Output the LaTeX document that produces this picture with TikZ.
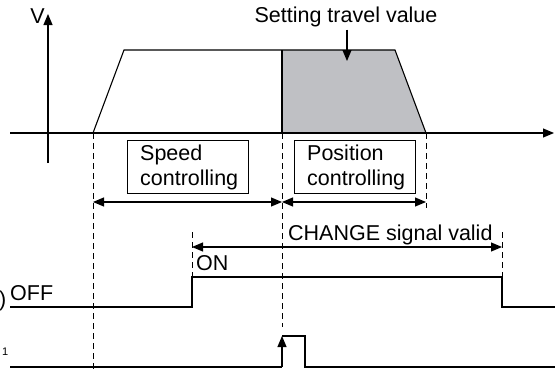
\documentclass[tikz,border=0pt]{standalone}
\usepackage{fontspec}
\setmainfont{Liberation Sans}
\usetikzlibrary{arrows.meta}
\definecolor{fillgray}{HTML}{BFC0C4}
\begin{document}
\begin{tikzpicture}[x=1pt,y=-1pt,
  line/.style={line width=1.1pt,line join=miter},
  dashline/.style={line width=0.9pt,dash pattern=on 6pt off 4pt},
  tip/.style={-{Triangle[length=11pt,width=9pt]}},
  dtip/.style={{Triangle[length=11pt,width=9pt]}-{Triangle[length=11pt,width=9pt]}},
  lbl/.style={inner sep=0pt,font=\fontsize{21.5}{25}\selectfont},
  boxlbl/.style={draw,line width=1.1pt,minimum width=121pt,minimum height=53pt,inner sep=0pt}]
\useasboundingbox (0,0) rectangle (557,372);
% coordinates
\coordinate (vbot) at (48,163); \coordinate (vtop) at (48,14);
\coordinate (hl) at (10,133); \coordinate (hr) at (554,133);
\coordinate (t0) at (93,133); \coordinate (t1) at (124,50);
\coordinate (t2) at (395,50); \coordinate (t3) at (426,133);
\coordinate (gtop) at (282,50); \coordinate (gbot) at (282,133);
% shaded area
\fill[fillgray] (gtop) -- (t2) -- (t3) -- (gbot) -- cycle;
\draw[line] (t0) -- (t1) -- (t2) -- (t3);
\draw[line] (gtop) -- (gbot);
% axes
\draw[line,tip] (vbot) -- (vtop);
\draw[line,tip] (hl) -- (hr);
\node[lbl] (V) at (37.5,16) {V};
% setting travel value
\node[lbl,anchor=base] (stv) at (346,22) {Setting travel value};
\coordinate (stvend) at (347,61);
\draw[line,tip] (stv.south -| stvend) ++(0,3) -- (stvend);
% boxes
\node[boxlbl,anchor=north west] (spd) at (127,140) {};
\node[lbl,anchor=base west] (spdt1) at (140,160) {Speed};
\node[lbl,anchor=base west] (spdt2) at (140,185) {controlling};
\node[boxlbl,anchor=north west] (pos) at (294,140) {};
\node[lbl,anchor=base west] (post1) at (307,160) {Position};
\node[lbl,anchor=base west] (post2) at (307,185) {controlling};
% dashed verticals
\coordinate (d1b) at (93,372);
\coordinate (d2b) at (282,327);
\coordinate (d3b) at (426,208);
\coordinate (d4t) at (192,232); \coordinate (d4b) at (192,277);
\coordinate (d5t) at (502,232); \coordinate (d5b) at (502,277);
\draw[dashline] (t0) -- (d1b);
\draw[dashline] (gbot) -- (d2b);
\draw[dashline] (t3) -- (d3b);
\draw[dashline] (d4t) -- (d4b);
\draw[dashline] (d5t) -- (d5b);
% double arrows
\coordinate (a1l) at (93,202); \coordinate (a1r) at (282,202); \coordinate (a2r) at (426,202);
\draw[line,dtip] (a1l) -- (a1r);
\draw[line,dtip] (a1r) -- (a2r);
\coordinate (a3l) at (192,247); \coordinate (a3r) at (502,247);
\draw[line,dtip] (a3l) -- (a3r);
\node[lbl,anchor=base west] (chg) at (288,240) {CHANGE signal valid};
\node[lbl,anchor=base west] (on) at (196,270) {ON};
% signal 1
\node[lbl,anchor=base west] (off) at (10,300) {OFF};
\node[lbl,anchor=base west] (par) at (-1,306) {)};
\coordinate (s1a) at (10,307); \coordinate (s1b) at (192,307); \coordinate (s1c) at (192,277);
\coordinate (s1d) at (502,277); \coordinate (s1e) at (502,307); \coordinate (s1f) at (555,307);
\draw[line] (s1a) -- (s1b) -- (s1c) -- (s1d) -- (s1e) -- (s1f);
% signal 2
\node[inner sep=0pt,anchor=base west,font=\fontsize{11}{13}\selectfont] (one) at (2,355) {1};
\coordinate (s2a) at (10,367); \coordinate (s2b) at (282,367); \coordinate (s2c) at (282,336);
\coordinate (s2d) at (305,336); \coordinate (s2e) at (305,367); \coordinate (s2f) at (555,367);
\draw[line] (s2a) -- (s2b);
\draw[line,tip] (s2b) -- (s2c);
\draw[line] (s2c) -- (s2d) -- (s2e) -- (s2f);
\end{tikzpicture}
\end{document}
